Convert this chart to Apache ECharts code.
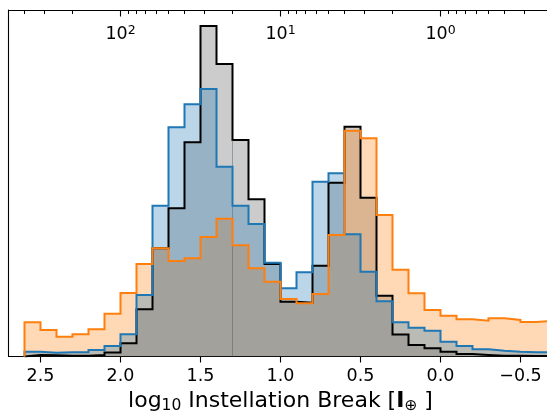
<!DOCTYPE html>
<html><head><meta charset="utf-8">
<script src="https://cdn.jsdelivr.net/npm/echarts@6/dist/echarts.min.js"></script>
<style>html,body{margin:0;padding:0;background:#fff}#c{width:547px;height:417px}</style>
</head><body><div id="c"></div>
<script>
// bin edges (log10 instellation), from high to low
const binEdges = [2.6,2.5,2.4,2.3,2.2,2.1,2.0,1.9,1.8,1.7,1.6,1.5,1.4,1.3,1.2,1.1,1.0,0.9,0.8,0.7,0.6,0.5,0.4,0.3,0.2,0.1,0.0,-0.1,-0.2,-0.3,-0.4,-0.5,-0.6,-0.7];
// histogram heights (arbitrary units) per bin
const grayCounts   = [1.5,1.2,0.8,0.8,1.5,4.0,13.2,47.2,108.2,148.2,214.2,330.5,292.5,216.5,157.2,92.5,54.8,53.8,90.8,173.8,229.8,158.8,60.8,22.0,11.5,8.2,4.8,2.5,1.5,0.8,0.8,0.5,0.5];
const blueCounts   = [4.8,3.8,4.2,4.2,6.5,10.6,22.2,61.5,150.8,229.2,252.2,267.5,189.8,150.8,132.5,93.8,68.2,84.2,174.8,183.2,122.2,84.8,55.2,34.2,28.8,25.8,14.8,10.5,7.2,5.8,4.8,4.2,4.2];
const orangeCounts = [34.2,26.5,19.8,22.2,27.2,42.8,63.5,92.5,108.2,95.5,98.2,119.5,137.8,111.2,88.2,74.8,57.5,53.2,62.5,121.5,225.8,218.2,141.5,86.8,63.2,46.5,40.8,37.2,35.8,38.3,36.5,34.4,35.8];
// axis ticks
const bottomTicks = [2.5,2.0,1.5,1.0,0.5,0.0,-0.5];
const bottomTickLabels = ['2.5','2.0','1.5','1.0','0.5','0.0','\u22120.5'];
const topMajorExps = [2,1,0];
const topMinorDecades = [-1,0,1,2];
const topMinorMultipliers = [2,3,4,5,6,7,8,9];

const X_MIN = -0.7, X_MAX = 2.7, Y_MAX = 346.5;
const FONT = 'DejaVu Sans';

function stepData(vals){
  const d = [[binEdges[0], 0]];
  for (let i = 0; i < vals.length; i++) d.push([binEdges[i], vals[i]]);
  d.push([binEdges[vals.length], vals[vals.length-1]]);
  return d;
}
const minorVals = [];
topMinorDecades.forEach(n => topMinorMultipliers.forEach(k => {
  const v = Math.log10(k) + n;
  if (v > X_MIN && v < X_MAX) minorVals.push(v);
}));

function fillSeries(vals, color, opacity, z, extra){
  return Object.assign({type:'line', data: stepData(vals), step:'end', symbol:'none', silent:true,
    lineStyle:{opacity:0, width:0}, areaStyle:{color:color, opacity:opacity, origin:'start'},
    z:z, clip:true, animation:false}, extra||{});
}
function edgeSeries(vals, color, z){
  return {type:'line', data: stepData(vals), step:'end', symbol:'none', silent:true,
    lineStyle:{color:color, width:2, join:'miter', cap:'butt'}, z:z, clip:true, animation:false};
}
const seamIdx = binEdges.indexOf(1.3);
const topAxisBase = {type:'value', gridIndex:0, position:'top', min:X_MIN, max:X_MAX, inverse:true, splitLine:{show:false}};

const chart = echarts.init(document.getElementById('c'), null, {renderer:'canvas'});
chart.setOption({
  backgroundColor:'#fff',
  animation:false,
  grid:{left:8.5, top:10, width:544, height:346.5, outerBoundsMode:'none', containLabel:false},
  xAxis:[
    {type:'value', gridIndex:0, position:'bottom', min:X_MIN, max:X_MAX, inverse:true,
     axisLine:{show:true, onZero:false, lineStyle:{color:'#000', width:1.1}},
     axisTick:{show:true, length:6, lineStyle:{color:'#000', width:1.1}, customValues: bottomTicks},
     axisLabel:{show:true, margin:11, fontFamily:FONT, fontSize:17.5, color:'#000', customValues: bottomTicks,
       formatter: v => { const i = bottomTicks.findIndex(t => Math.abs(t-v) < 1e-6); return i>=0 ? bottomTickLabels[i] : ''; }},
     splitLine:{show:false},
     name:'{n|log}{sub|10}{n| Instellation Break [}{b|I}{sub|\u2295}{n| ]}',
     nameLocation:'middle', nameGap:33,
     nameTextStyle:{fontFamily:FONT, color:'#000', rich:{
       n:{fontFamily:FONT, fontSize:22, color:'#000'},
       b:{fontFamily:FONT, fontSize:22, fontWeight:'bold', color:'#000'},
       sub:{fontFamily:FONT, fontSize:15.5, color:'#000', verticalAlign:'bottom', padding:[8,0,0,0]}
     }}},
    Object.assign({}, topAxisBase, {
     axisLine:{show:true, onZero:false, lineStyle:{color:'#000', width:1.1}},
     axisTick:{show:true, inside:true, length:4, lineStyle:{color:'#000', width:1}, customValues: minorVals.concat(topMajorExps)},
     axisLabel:{show:true, inside:true, margin:14, fontFamily:FONT, customValues: topMajorExps,
       formatter: v => '{m|10}{s|' + Math.round(v) + '}',
       rich:{ m:{fontFamily:FONT, fontSize:17.5, color:'#000'},
              s:{fontFamily:FONT, fontSize:12.5, color:'#000', verticalAlign:'top', padding:[0,0,8,0]} }}}),
    Object.assign({}, topAxisBase, {
     axisLine:{show:false, onZero:false},
     axisTick:{show:true, inside:true, length:6.5, lineStyle:{color:'#000', width:1.1}, customValues: topMajorExps},
     axisLabel:{show:false}})
  ],
  yAxis:[
    {type:'value', gridIndex:0, min:0, max:Y_MAX,
     axisLine:{show:true, onZero:false, lineStyle:{color:'#000', width:1.1}},
     axisTick:{show:false}, axisLabel:{show:false}, splitLine:{show:false}}
  ],
  series:[
    fillSeries(grayCounts, '#000000', 0.2, 1, {
      markLine:{silent:true, symbol:'none', label:{show:false},
        lineStyle:{color:'rgba(70,90,110,0.45)', width:1, type:'solid'},
        data:[[{coord:[binEdges[seamIdx], 0]}, {coord:[binEdges[seamIdx], grayCounts[seamIdx]]}]]}}),
    fillSeries(orangeCounts, '#ff7f0e', 0.3, 2),
    fillSeries(blueCounts, '#1f77b4', 0.3, 3),
    edgeSeries(grayCounts, '#000000', 4),
    edgeSeries(blueCounts, '#1f77b4', 5),
    edgeSeries(orangeCounts, '#ff7f0e', 6)
  ]
});
</script></body></html>
